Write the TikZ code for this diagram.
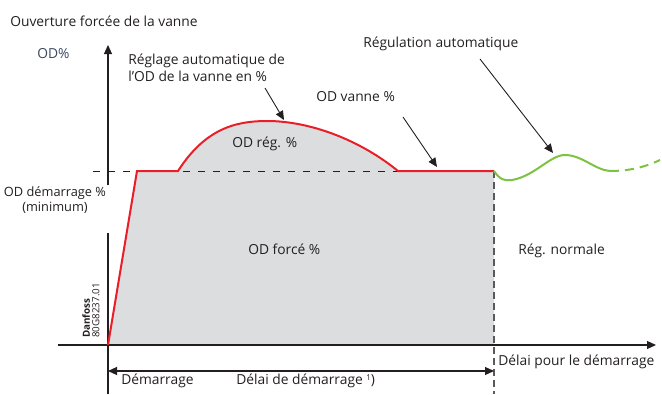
\documentclass[tikz,border=0pt]{standalone}
\usepackage{fontspec}
\setmainfont{Open Sans}
\usetikzlibrary{arrows.meta, positioning}
\definecolor{txt}{RGB}{35,31,32}
\definecolor{odblue}{RGB}{58,72,100}
\definecolor{areagray}{RGB}{220,221,223}
\definecolor{valvered}{RGB}{234,30,40}
\definecolor{regulgreen}{RGB}{125,194,66}
\definecolor{dashgray}{RGB}{90,90,92}

\begin{document}
\begin{tikzpicture}[
        x = 1pt, y = -1pt, % one unit = one pixel, y downwards
        > = {Triangle[length=9pt,width=8pt]}, % arrow head style
        semithick % line style
    ]

    \tikzstyle{every node}=[inner sep = 0pt, text = txt,
    font = \fontsize{13.8}{16.5}\selectfont]
    \tikzstyle{axis}=[draw = txt, line width = 1.1pt]
    \tikzstyle{pointer}=[draw = txt, line width = 0.9pt, ->]

    \useasboundingbox (0,0) rectangle (662,394);

    % points of the curve
    \coordinate (O) at (108,345); \coordinate (ramp) at (137,171);
    \coordinate (rise) at (178,171); \coordinate (peak) at (267,121);
    \coordinate (fall) at (398,171); \coordinate (stop) at (494,171);
    \coordinate (stopdown) at (494,345); \coordinate (wave) at (610,171);
    \coordinate (waveend) at (660,160);

    % area under the valve opening
    \fill[areagray] (O) -- (ramp) -- (rise) .. controls (205,129) and
    (235,121) .. (peak) .. controls (310,121) and (360,140) .. (fall) --
    (stop) -- (stopdown) -- cycle;

    % reference lines
    \draw[txt, line width = 0.8pt, dash pattern = on 7pt off 8pt] (93,171)
    -- (stop); \draw[dashgray, line width = 1.1pt, dash pattern = on 7pt
    off 4pt] (stop) -- (494,394);

    % axes
    \draw[axis] (108,394) -- (108,233); \draw[axis, ->] (108,185) --
    (108,45); \draw[axis, ->] (58,345) -- (656,345); \draw[axis, <->] (108,371)
    -- (494,371);

    % valve opening and regulation
    \draw[valvered, line width = 2pt] (O) -- (ramp) -- (rise) .. controls
    (205,129) and (235,121) .. (peak) .. controls (310,121) and (360,140) ..
    (fall) -- (stop); \draw[regulgreen, line width = 2pt] (stop) .. controls
    (500,180) and (505,181) .. (512,180) .. controls (535,176) and (550,155)
    .. (565,155) .. controls (582,155) and (595,170) .. (wave);
    \draw[regulgreen, line width = 2pt, dash pattern = on 9pt off 6pt] (wave)
    .. controls (630,171) and (645,167) .. (waveend);

    % labels
    \node (title) [anchor = west] at (10,21) {Ouverture forcée de la vanne};
    \node (odpct) [anchor = west, text = odblue] at (37,54) {OD\%};
    \node (reglage) [anchor = west, align = left] at (128,68) {Réglage
        automatique de\\l’OD de la vanne en \%}; \node (odvanne) [anchor =
        west] at (316,97) {OD vanne \%}; \node (regul) [anchor = west] at
    (363,44) {Régulation automatique}; \node (odreg) [anchor = west] at
    (232,144) {OD rég. \%}; \node (demmin) [align = center, font =
        \fontsize{12.8}{15.5}\selectfont] at (55,200) {OD démarrage
        \%\\(minimum)}; \node (odforce) [anchor = west] at (248,249) {OD
        forcé \%}; \node (regnorm) [anchor = west] at (518,251) {Rég.
        normale}; \node (delaipour) [anchor = west] at (498,362) {Délai pour
        le démarrage}; \node (demarr) [anchor = west] at (121,381)
    {Démarrage}; \node (delaidem) [anchor = west] at (236,381) {Délai de
        démarrage {\fontsize{8}{9}\selectfont\raisebox{4pt}{1}})}; \node
    (danfoss) [rotate = 90, anchor = north west, align = left, font =
        \fontsize{9.8}{9.5}\selectfont] at (82,338)
    {\textbf{Danfoss}\\80G8237.01};

    % pointers
    \coordinate (reglagefrom) at (265,88); \coordinate (reglageto) at
    (284,120); \coordinate (odvannefrom) at (403,117); \coordinate
    (odvanneto) at (437,167); \coordinate (regulfrom) at (480,59);
    \coordinate (regulto) at (553,153);
    \draw[pointer] (reglagefrom) -- (reglageto); \draw[pointer] (odvannefrom)
    -- (odvanneto); \draw[pointer] (regulfrom) -- (regulto);

\end{tikzpicture}
\end{document}
